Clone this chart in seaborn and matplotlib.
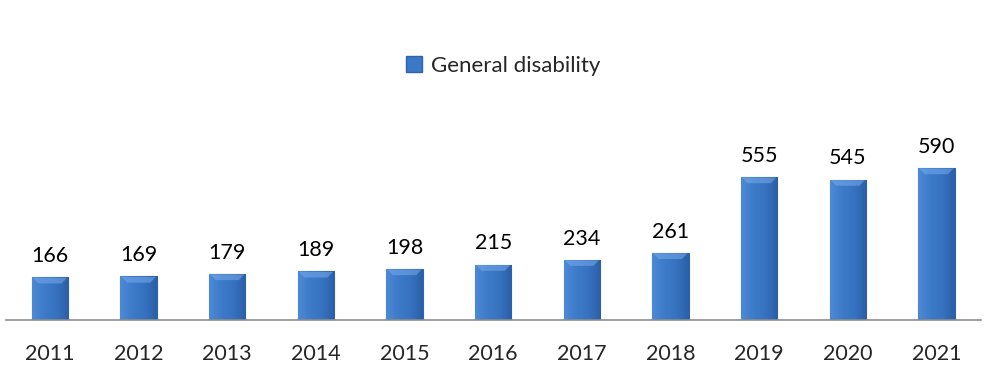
import seaborn as sns
import matplotlib.pyplot as plt
import numpy as np
from matplotlib.colors import LinearSegmentedColormap
from matplotlib.patches import Patch

years = ['2011', '2012', '2013', '2014', '2015', '2016', '2017', '2018', '2019', '2020', '2021']
cases = [166, 169, 179, 189, 198, 215, 234, 261, 555, 545, 590]
series_name = 'General disability'

sns.set_style('white')
plt.rcParams['font.family'] = ['Lato', 'DejaVu Sans']

fig = plt.figure(figsize=(10, 3.73), dpi=100)
ax = fig.add_axes([0.0057, 0.142, 0.975, 0.59])

sns.barplot(x=years, y=cases, color='#3b78c6', width=0.41, ax=ax,
            edgecolor='#2e64aa', linewidth=0.8)

# gradient fill clipped to each bar
cmap = LinearSegmentedColormap.from_list('bar', ['#4c8ad6', '#3d7bc9', '#3672c0', '#2b5fa6'])
grad = np.linspace(0, 1, 64).reshape(1, -1)
for p in ax.patches:
    x0, y0 = p.get_x(), p.get_y()
    w, h = p.get_width(), p.get_height()
    im = ax.imshow(grad, cmap=cmap, aspect='auto', extent=(x0, x0 + w, y0, y0 + h),
                   zorder=p.get_zorder() + 0.1)
    im.set_clip_path(p)
    # light bevel at top, trapezoid shape
    top = y0 + h
    ax.fill([x0 + w * 0.03, x0 + w * 0.97, x0 + w * 0.82, x0 + w * 0.18],
            [top - 2, top - 2, top - 24, top - 24],
            color='#78aaeb', alpha=0.55, lw=0, zorder=p.get_zorder() + 0.2)

for i, v in enumerate(cases):
    ax.text(i, v + 82, str(v), ha='center', va='center', fontsize=15.5, color='black')

ax.set_xlim(-0.5, len(years) - 0.5)
ax.set_ylim(0, 854)
ax.set_yticks([])
ax.tick_params(axis='x', length=0, labelsize=15.5, pad=17)
for s in ['top', 'right', 'left']:
    ax.spines[s].set_visible(False)
ax.spines['bottom'].set_color('#8c8c8c')
ax.spines['bottom'].set_linewidth(1.2)

handle = Patch(facecolor='#3b78c6', edgecolor='#2e64aa')
fig.legend([handle], [series_name], loc='center', bbox_to_anchor=(0.503, 0.823),
           frameon=False, fontsize=16, handlelength=0.7, handleheight=0.7,
           handletextpad=0.4)

fig.savefig('out.png', dpi=100)
